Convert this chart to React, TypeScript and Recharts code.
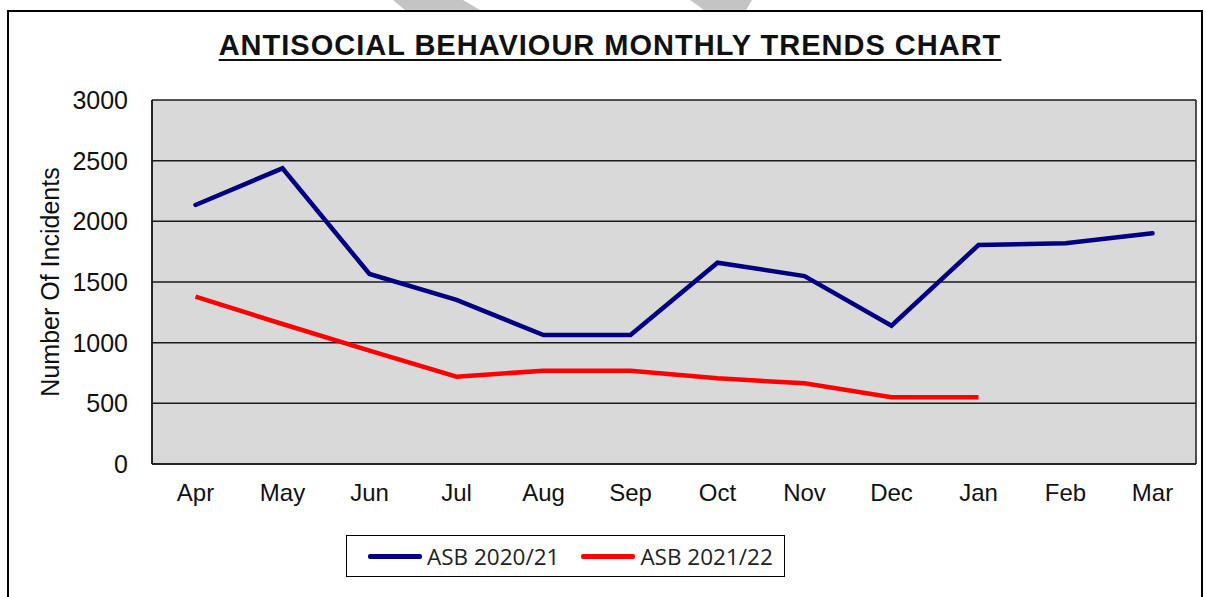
import React from 'react';
import { LineChart, Line, XAxis, YAxis, CartesianGrid, Legend } from 'recharts';

const months = ['Apr', 'May', 'Jun', 'Jul', 'Aug', 'Sep', 'Oct', 'Nov', 'Dec', 'Jan', 'Feb', 'Mar'];
const asb2021 = [2135, 2437, 1566, 1352, 1063, 1063, 1659, 1549, 1140, 1805, 1819, 1901];
const asb2122: (number | null)[] = [1379, 1154, 934, 720, 769, 769, 706, 665, 550, 550, null, null];
const yTicks = [0, 500, 1000, 1500, 2000, 2500, 3000];
const seriesNames = ['ASB 2020/21', 'ASB 2021/22'];
const seriesColors = ['#000080', '#FF0000'];
const chartTitle = 'ANTISOCIAL BEHAVIOUR MONTHLY TRENDS CHART';
const yTitle = 'Number Of Incidents';

const data = months.map((m, i) => ({ month: m, a: asb2021[i], b: asb2122[i] }));

const FONT = '"Liberation Sans", Arial, sans-serif';

const renderLegend = (props: any) => {
  const { payload } = props;
  return (
    <div
      style={{
        border: '1.5px solid #000',
        width: 439,
        height: 42,
        boxSizing: 'border-box',
        display: 'flex',
        alignItems: 'center',
        paddingLeft: 21,
        fontFamily: '"Open Sans", sans-serif',
        fontSize: 22.5,
        color: '#222',
        background: '#fff',
        whiteSpace: 'nowrap',
        overflow: 'visible',
      }}
    >
      {(payload || []).map((p: any, i: number) => (
        <div
          key={i}
          style={{ display: 'flex', alignItems: 'center', marginRight: 22, flexShrink: 0, whiteSpace: 'nowrap' }}
        >
          <span
            style={{
              display: 'inline-block',
              width: 54,
              height: 5,
              background: p.color,
              borderRadius: 2,
              marginRight: 5,
              flexShrink: 0,
            }}
          />
          <span style={{ whiteSpace: 'nowrap' }}>{p.value}</span>
        </div>
      ))}
    </div>
  );
};

export default function App() {
  return (
    <div
      style={{
        position: 'absolute',
        left: 0,
        top: 0,
        width: 1206,
        height: 597,
        background: '#fff',
        overflow: 'hidden',
      }}
    >
      <svg width={1206} height={12} style={{ position: 'absolute', left: 0, top: 0 }}>
        <polygon points="393,0 463,0 480,10 405,10" fill="#C4C4C4" />
        <polygon points="690,0 752,0 746,10 704,10" fill="#C4C4C4" />
      </svg>
      <div
        style={{
          position: 'absolute',
          left: 7,
          top: 10,
          width: 1196,
          height: 600,
          borderLeft: '2px solid #000',
          borderTop: '2px solid #000',
          borderRight: '2px solid #000',
          boxSizing: 'border-box',
        }}
      />
      <div
        style={{
          position: 'absolute',
          left: 7,
          top: 29,
          width: 1206,
          textAlign: 'center',
          fontFamily: FONT,
          fontWeight: 'bold',
          fontSize: 29,
          letterSpacing: 1,
          color: '#111',
          textDecoration: 'underline',
          textDecorationThickness: 2,
          textUnderlineOffset: 4,
        }}
      >
        {chartTitle}
      </div>
      <div style={{ position: 'absolute', left: 0, top: 0 }}>
        <LineChart
          width={1206}
          height={597}
          data={data}
          margin={{ top: 100, right: 10, bottom: 93, left: 0 }}
        >
          <CartesianGrid
            fill="#D9D9D9"
            fillOpacity={1}
            stroke="#1a1a1a"
            strokeWidth={1.5}
            vertical={true}
            verticalCoordinatesGenerator={({ offset }: any) => [offset.left, offset.left + offset.width]}
          />
          <XAxis
            dataKey="month"
            height={40}
            padding={{ left: 43.5, right: 43.5 }}
            axisLine={{ stroke: '#1a1a1a', strokeWidth: 1.5 }}
            tickLine={false}
            tickSize={0}
            tickMargin={20}
            interval={0}
            tick={{ fill: '#111', fontSize: 24, fontFamily: FONT }}
          />
          <YAxis
            width={152}
            domain={[0, 3000]}
            ticks={yTicks}
            interval={0}
            axisLine={{ stroke: '#1a1a1a', strokeWidth: 1.5 }}
            tickLine={false}
            tickSize={0}
            tickMargin={24}
            tick={{ fill: '#111', fontSize: 25, fontFamily: FONT }}
            label={{
              value: yTitle,
              angle: -90,
              position: 'center',
              dx: -26,
              style: { fill: '#111', fontSize: 25, fontFamily: FONT },
            }}
          />
          <Legend
            content={renderLegend}
            verticalAlign="middle"
            align="center"
            layout="horizontal"
            wrapperStyle={{ position: 'absolute', left: 346, top: 535, width: 439, height: 42 }}
          />
          <Line
            type="linear"
            dataKey="a"
            name={seriesNames[0]}
            stroke={seriesColors[0]}
            strokeWidth={4.5}
            strokeLinecap="round"
            dot={false}
            activeDot={false}
            isAnimationActive={false}
          />
          <Line
            type="linear"
            dataKey="b"
            name={seriesNames[1]}
            stroke={seriesColors[1]}
            strokeWidth={4.5}
            dot={false}
            activeDot={false}
            isAnimationActive={false}
          />
        </LineChart>
      </div>
    </div>
  );
}
